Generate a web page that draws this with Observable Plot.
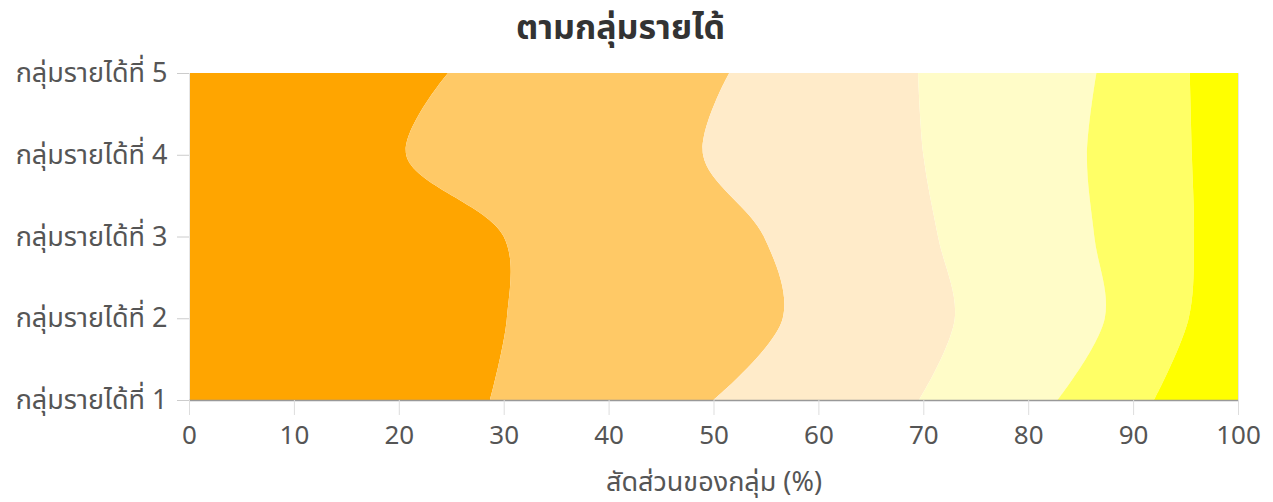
<!DOCTYPE html>
<html>
<head>
<meta charset="utf-8">
<script src="https://cdn.jsdelivr.net/npm/d3@7"></script>
<script src="https://cdn.jsdelivr.net/npm/@observablehq/plot@0.6"></script>
<style>
  html, body { margin: 0; padding: 0; background: #fff; }
  body { width: 1273px; height: 502px; overflow: hidden; font-family: "Noto Sans Thai", "Noto Sans", sans-serif; }
  #title { height: 50px; line-height: 58px; text-align: center; font-size: 34px; font-weight: bold; color: #333; padding-right: 32px; box-sizing: border-box; }
  svg text { font-family: "Noto Sans Thai", "Noto Sans", sans-serif; }
</style>
</head>
<body>
<div id="title">ตามกลุ่มรายได้</div>
<div id="chart"></div>
<script>
const groups = ["กลุ่มรายได้ที่ 1", "กลุ่มรายได้ที่ 2", "กลุ่มรายได้ที่ 3", "กลุ่มรายได้ที่ 4", "กลุ่มรายได้ที่ 5"];
const seriesNames = ["ส่วนที่ 1", "ส่วนที่ 2", "ส่วนที่ 3", "ส่วนที่ 4", "ส่วนที่ 5", "ส่วนที่ 6"];
const seriesColors = ["#FFA500", "#FFC966", "#FFEBC9", "#FFFCC8", "#FFFF66", "#FFFF00"];
// values per series, ordered by income group 1..5
const s1 = [28.7, 30.3, 30.0, 20.7, 24.7];
const s2 = [21.3, 26.3, 24.8, 28.3, 26.8];
const s3 = [19.6, 16.4, 16.6, 21.0, 18.0];
const s4 = [13.2, 14.3, 14.9, 15.6, 17.0];
const s5 = [9.2, 8.0, 9.5, 10.0, 8.9];
const s6 = [8.0, 4.7, 4.2, 4.4, 4.6];
const xTicks = [0, 10, 20, 30, 40, 50, 60, 70, 80, 90, 100];
const xLabel = "สัดส่วนของกลุ่ม (%)";

const seriesValues = [s1, s2, s3, s4, s5, s6];
const data = [];
seriesNames.forEach((name, i) => {
  groups.forEach((g, j) => {
    data.push({series: name, g: j + 1, value: seriesValues[i][j]});
  });
});

const chart = Plot.plot({
  width: 1273,
  height: 452,
  marginTop: 23,
  marginLeft: 189,
  marginRight: 35,
  marginBottom: 102,
  style: {fontSize: "26px", color: "#555", background: "#fff"},
  x: {domain: [0, 100], ticks: xTicks, label: null},
  y: {domain: [1, 5], ticks: [1, 2, 3, 4, 5], tickFormat: d => groups[d - 1], label: null},
  color: {domain: seriesNames, range: seriesColors},
  marks: [
    Plot.areaX(data, Plot.stackX({y: "g", x: "value", fill: "series", order: seriesNames, curve: "catmull-rom"})),
    Plot.ruleX([0, 100], {stroke: "#e6e6e6"}),
    Plot.ruleY([1], {stroke: "#999", strokeWidth: 1.5}),
    Plot.axisX({ticks: xTicks, tickSize: 15, tickPadding: 10, stroke: "#ddd", color: "#555", fontSize: 26, label: null}),
    Plot.axisY({ticks: [1, 2, 3, 4, 5], tickFormat: d => groups[d - 1], tickSize: 12, tickPadding: 10, stroke: "#ccc", fontSize: 27, label: null}),
    Plot.text([xLabel], {frameAnchor: "bottom", dy: 90, fontSize: 27, fill: "#555"})
  ]
});
document.getElementById("chart").appendChild(chart);
</script>
</body>
</html>
